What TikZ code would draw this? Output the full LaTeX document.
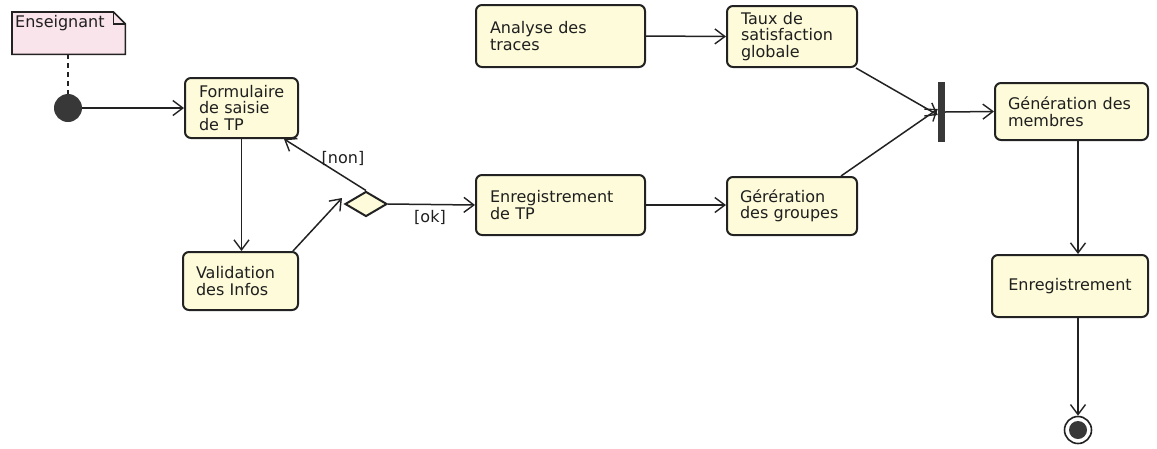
\documentclass[tikz,border=0pt]{standalone}
\usepackage{fontspec}
\setmainfont{DejaVu Sans}
\usetikzlibrary{arrows.meta,shapes.geometric}
\definecolor{actfill}{HTML}{FDFBD9}
\definecolor{notefill}{HTML}{FAE4EC}
\definecolor{ink}{HTML}{222222}
\tikzset{
  txt/.style={font=\fontsize{16}{16.5}\selectfont, text=ink!90!black},
  act/.style={txt, draw=ink, line width=2pt, fill=actfill, rounded corners=6pt,
    align=left, inner xsep=14pt, inner ysep=2pt},
  flow/.style={draw=ink, line width=1.5pt,
    -{Straight Barb[length=10pt,width=15pt,line width=1.4pt]}},
  guard/.style={txt, inner sep=1pt}
}
\begin{document}
\begin{tikzpicture}[x=1pt,y=-1pt]
\useasboundingbox (0,0) rectangle (1157,448);

% note attached to the start
\node[txt, anchor=north west, minimum width=113pt, minimum height=42pt, inner sep=0pt] (note) at (12,12) {};
\draw[ink, line width=1.6pt, fill=notefill]
  (note.north west) -- ([xshift=-12pt]note.north east) -- ([yshift=-12pt]note.north east)
  -- (note.south east) -- (note.south west) -- cycle;
\draw[ink, line width=1.4pt]
  ([xshift=-12pt]note.north east) -- ([xshift=-12pt,yshift=-12pt]note.north east) -- ([yshift=-12pt]note.north east);
\node[txt, anchor=base west, inner sep=0pt] (notetext) at (15,27) {Enseignant};

% start node
\node[circle, fill=ink!90, minimum size=28pt, inner sep=0pt] (init) at (68,108) {};

% actions
\node[act, minimum height=60pt, text width=85pt] (form) at (241.5,108) {Formulaire\\de saisie\\de TP};
\node[act, minimum height=58pt, text width=89pt, inner xsep=13pt] (valid) at (240.5,281) {Validation\\des Infos};
\node[act, minimum height=62pt, text width=141pt] (analyse) at (560.5,36) {Analyse des\\traces};
\node[act, minimum height=61pt, text width=102pt] (taux) at (792,36.5) {Taux de\\satisfaction\\globale};
\node[act, minimum height=60pt, text width=141pt] (enrtp) at (560.5,205) {Enregistrement\\de TP};
\node[act, minimum height=58pt, text width=104pt, inner xsep=13pt] (gengr) at (792,206) {Gérération\\des groupes};
\node[act, minimum height=57pt, text width=127pt, inner xsep=13pt] (genm) at (1071.5,111.5) {Génération des\\membres};
\node[act, minimum height=62pt, text width=125pt, inner xsep=15.5pt, align=center] (enreg) at (1070,286) {Enregistrement};

% decision, fork bar, end node
\node[diamond, draw=ink, line width=2pt, fill=actfill, aspect=1.7,
  minimum width=42pt, minimum height=25pt, inner sep=0pt] (dec) at (366,204) {};
\node[rectangle, fill=ink!90, minimum width=7pt, minimum height=60pt, inner sep=0pt] (bar) at (941.5,112) {};
\node[circle, draw=ink, line width=1.6pt, fill=white, minimum size=27pt, inner sep=0pt] (final) at (1078,430) {};
\node[circle, fill=ink!90, minimum size=18pt, inner sep=0pt] (finalin) at (final) {};

% connectors
\draw[ink, line width=1.5pt, dash pattern=on 5pt off 4pt] (init |- note.south) -- (init.north);
\draw[flow] (init) -- (form.west);
\draw[flow] (form.south) -- (form.south |- valid.north);
\draw[flow] ([xshift=-6pt]valid.north east) -- ([xshift=-2pt,yshift=6pt]dec.west);
\draw[flow] (dec.north) -- ([xshift=-15pt]form.south east);
\draw[flow] (dec.east) -- (enrtp.west);
\draw[flow] (analyse.east) -- (taux.west);
\draw[flow] (enrtp.east) -- (enrtp.east -| gengr.west);
\draw[flow] ([xshift=-2pt]taux.south east) -- ([yshift=-3pt]bar.west);
\draw[flow] ([xshift=-17pt]gengr.north east) -- ([yshift=3pt]bar.west);
\draw[flow] (bar.east) -- (genm.west);
\draw[flow] (final |- genm.south) -- (final |- enreg.north);
\draw[flow] (final |- enreg.south) -- (final.north);

% guards
\node[guard] (gnon) at (343,158) {[non]};
\node[guard] (gok) at (430,217) {[ok]};
\end{tikzpicture}
\end{document}
